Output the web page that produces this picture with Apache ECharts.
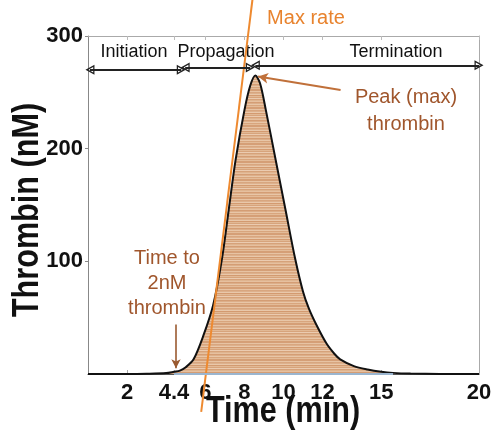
<!DOCTYPE html>
<html><head><meta charset="utf-8">
<script src="https://cdn.jsdelivr.net/npm/echarts@6/dist/echarts.min.js"></script>
<style>html,body{margin:0;padding:0;background:#fff}#c{width:491px;height:436px}</style>
</head><body><div id="c"></div>
<script>
// ---- data ----
const timeMin    = [0, 1, 2, 3, 4, 4.4, 4.7, 5.0, 5.4, 5.9, 6.4, 6.85, 7.2, 7.55, 8.0, 8.3, 8.56, 8.8, 9.1, 9.6, 10.1, 10.6, 11.0, 11.3, 11.7, 12.2, 12.6, 12.9, 13.6, 14.3, 15.0, 15.6, 16.5, 18, 20];
const thrombinNM = [0, 0, 0, 0.2, 0.8, 2, 3, 6, 13, 34, 61, 102, 146, 190, 234, 256, 265, 258, 234, 190, 146, 102, 73, 58, 43, 27, 18, 13, 7, 4, 2, 1, 0.4, 0.1, 0];
const fillEndMin = 15.6;
const maxRateX = [5.79, 8.41];
const maxRateY = [-33.6, 332];
const xTickValues = [2, 4.4, 6, 8, 10, 12, 15, 20];
const yTickValues = [100, 200, 300];
const phaseNames = ['Initiation', 'Propagation', 'Termination'];
const phaseStart = [0.1, 4.97, 8.56];
const phaseEnd   = [4.77, 8.3, 20];
const phaseY     = [270, 272, 274];

// ---- styling helpers ----
const pat = document.createElement('canvas');
pat.width = 8; pat.height = 18;
(function(){
  const g = pat.getContext('2d');
  const rows = ['#d59f77','#e7c3a3','#d8a67f','#ddb08c','#e9c8aa','#d39a70','#e2b995','#d7a47c','#ebcbb0','#d6a27a','#dfb48f','#e6c09f','#d49d74','#dcae89','#e8c6a7','#d8a57d','#e3bb98','#d59f76'];
  rows.forEach((c,i)=>{ g.fillStyle=c; g.fillRect(0,i,8,1); });
})();
const hollowTri = 'path://M5,0 L10,10 L0,10 Z M5,3.2 L2.2,8.6 L7.8,8.6 Z';

const curve = timeMin.map((t,i)=>[t, thrombinNM[i]]);
const fillData = curve.filter(p=>p[0] <= fillEndMin);
const brown = '#a0562c';
const labelFont = 'Liberation Sans';

const phaseLines = phaseNames.map((n,i)=>[
  {coord:[phaseStart[i], phaseY[i]], symbol: hollowTri},
  {coord:[phaseEnd[i], phaseY[i]], symbol: hollowTri}
]);

const chart = echarts.init(document.getElementById('c'));
chart.setOption({
  animation: false,
  grid: {left: 88, right: 12, top: 36, bottom: 62, containLabel: false, outerBoundsMode: 'none'},
  xAxis: [{
    type: 'value', min: 0, max: 20, position: 'bottom',
    axisLine: {show: true, onZero: false, lineStyle: {color: '#555', width: 1.2}},
    axisTick: {show: true, inside: true, length: 4, customValues: xTickValues, lineStyle: {color: '#aaa'}},
    axisLabel: {customValues: xTickValues, margin: 8, color: '#111', fontFamily: labelFont, fontWeight: 'bold', fontSize: 22,
                formatter: v => String(v)},
    splitLine: {show: false}
  }, {
    type: 'value', min: 0, max: 20, position: 'top',
    axisLine: {show: true, onZero: false, lineStyle: {color: '#aaa'}},
    axisTick: {show: true, inside: true, length: 4, customValues: xTickValues, lineStyle: {color: '#bbb'}},
    axisLabel: {show: false}, splitLine: {show: false}
  }],
  yAxis: [{
    type: 'value', min: 0, max: 300, interval: 100,
    axisLine: {show: true, onZero: false, lineStyle: {color: '#888'}},
    axisTick: {show: true, inside: false, length: 3, customValues: yTickValues, lineStyle: {color: '#888'}},
    axisLabel: {customValues: yTickValues, margin: 5, color: '#111', fontFamily: labelFont, fontWeight: 'bold', fontSize: 22},
    splitLine: {show: false}
  }, {
    type: 'value', min: 0, max: 300, position: 'right',
    axisLine: {show: true, onZero: false, lineStyle: {color: '#aaa'}},
    axisTick: {show: false}, axisLabel: {show: false}, splitLine: {show: false}
  }],
  series: [{
    name: 'fill', type: 'line', data: fillData, smooth: 0.3, symbol: 'none',
    lineStyle: {width: 0}, areaStyle: {color: {image: pat, repeat: 'repeat'}, opacity: 1},
    markLine: {silent: true, symbol: 'none', label: {show: false},
      data: [[{coord:[4.4,0]},{coord:[fillEndMin,0]}]],
      lineStyle: {color: '#9bb6d0', width: 2, type: 'solid'}}
  }, {
    name: 'thrombin', type: 'line', data: curve, smooth: 0.3, symbol: 'none',
    lineStyle: {color: '#111', width: 2}, z: 3
  }, {
    name: 'max rate', type: 'line', data: maxRateX.map((x,i)=>[x, maxRateY[i]]), symbol: 'none',
    clip: false, lineStyle: {color: '#ee8a30', width: 2}, z: 4
  }, {
    name: 'annotations', type: 'line', data: [], symbol: 'none',
    markLine: {silent: true, label: {show: false}, symbolSize: [10, 9],
      lineStyle: {color: '#222', width: 1.8, type: 'solid'},
      data: phaseLines.concat([
        [{coord:[12.92, 252], symbol: 'none', lineStyle:{color:'#c0703a', width:2}}, {coord:[8.7, 264], symbol:'arrow', symbolSize:[8,10], lineStyle:{color:'#c0703a', width:2}}],
        [{coord:[4.5, 44], symbol: 'none', lineStyle:{color:'#9a5a30', width:1.6}}, {coord:[4.5, 5], symbol:'arrow', symbolSize:[7,9], lineStyle:{color:'#9a5a30', width:1.6}}]
      ])}
  }],
  graphic: [
    {type:'text', x: 283, y: 412, scaleX: 0.85, style:{text:'Time (min)', fill:'#111', font:'bold 36px "Liberation Sans", Arial', align:'center', verticalAlign:'middle'}},
    {type:'text', x: 28, y: 210, rotation: Math.PI/2, scaleX: 0.85, style:{text:'Thrombin (nM)', fill:'#111', font:'bold 36px "Liberation Sans", Arial', align:'center', verticalAlign:'middle'}},
    {type:'text', x: 306, y: 18, style:{text:'Max rate', fill:'#e8832e', font:'20px "Liberation Sans", Arial', align:'center', verticalAlign:'middle'}},
    {type:'text', x: 134, y: 52, style:{text:phaseNames[0], fill:'#111', font:'18px "Liberation Sans", Arial', align:'center', verticalAlign:'middle'}},
    {type:'text', x: 226, y: 52, style:{text:phaseNames[1], fill:'#111', font:'18px "Liberation Sans", Arial', align:'center', verticalAlign:'middle'}},
    {type:'text', x: 396, y: 52, style:{text:phaseNames[2], fill:'#111', font:'18px "Liberation Sans", Arial', align:'center', verticalAlign:'middle'}},
    {type:'text', x: 406, y: 111, style:{text:'Peak (max)\nthrombin', fill:brown, font:'20px "Liberation Sans", Arial', align:'center', verticalAlign:'middle', lineHeight: 27}},
    {type:'text', x: 167, y: 283, style:{text:'Time to\n2nM\nthrombin', fill:brown, font:'20px "Liberation Sans", Arial', align:'center', verticalAlign:'middle', lineHeight: 25}},
    {type:'text', x: 258, y: 334, style:{text:'Total\nthrombin', fill:brown, font:'20px "Liberation Sans", Arial', align:'center', verticalAlign:'middle', lineHeight: 25}}
  ]
});
</script>
</body></html>
